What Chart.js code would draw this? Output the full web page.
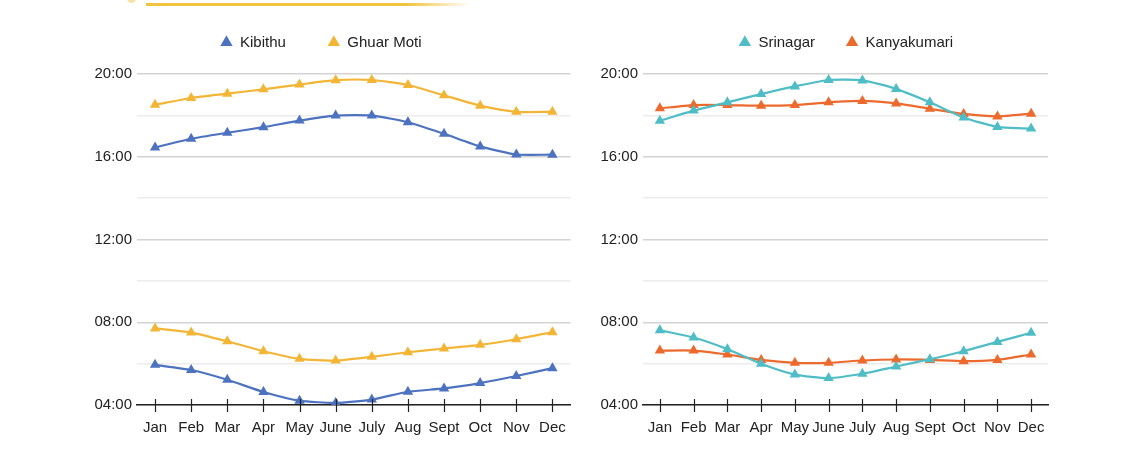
<!DOCTYPE html>
<html>
<head>
<meta charset="utf-8">
<script src="https://cdn.jsdelivr.net/npm/chart.js@4/dist/chart.umd.min.js"></script>
<style>
  body { margin: 0; background: #fff; width: 1146px; height: 460px; position: relative; overflow: hidden; }
  .box { position: absolute; top: 0; height: 460px; }
  #leftBox { left: 0; width: 580px; }
  #rightBox { left: 573px; width: 573px; }
  .deco { position: absolute; left: 146px; top: 3px; width: 325px; height: 3px;
    background: linear-gradient(to right, #f0c43c 0%, #f0c43c 80%, rgba(240,196,60,0) 100%); }
  .dot { position: absolute; left: 127px; top: -6px; width: 9px; height: 9px; border-radius: 50%; background: #f7e2a6; }
</style>
</head>
<body>
<div class="dot"></div>
<div class="deco"></div>
<div class="box" id="leftBox"><canvas id="leftChart"></canvas></div>
<div class="box" id="rightBox"><canvas id="rightChart"></canvas></div>
<script>
// months on the x axis
const months = ['Jan', 'Feb', 'Mar', 'Apr', 'May', 'June', 'July', 'Aug', 'Sept', 'Oct', 'Nov', 'Dec'];

// times as decimal hours
const kibithuSunrise = [5.94, 5.69, 5.22, 4.63, 4.21, 4.10, 4.26, 4.64, 4.80, 5.06, 5.40, 5.78];
const kibithuSunset = [16.45, 16.87, 17.16, 17.43, 17.75, 17.99, 17.99, 17.67, 17.11, 16.50, 16.11, 16.10];
const ghuarMotiSunrise = [7.70, 7.50, 7.08, 6.60, 6.23, 6.15, 6.33, 6.55, 6.73, 6.91, 7.18, 7.52];
const ghuarMotiSunset = [18.51, 18.84, 19.05, 19.26, 19.49, 19.70, 19.71, 19.47, 18.97, 18.47, 18.17, 18.17];

const srinagarSunrise = [7.61, 7.26, 6.70, 5.99, 5.47, 5.30, 5.51, 5.86, 6.21, 6.60, 7.05, 7.49];
const srinagarSunset = [17.74, 18.23, 18.63, 19.03, 19.40, 19.71, 19.69, 19.28, 18.63, 17.90, 17.44, 17.36];
const kanyakumariSunrise = [6.63, 6.63, 6.44, 6.18, 6.04, 6.04, 6.15, 6.20, 6.18, 6.12, 6.18, 6.44];
const kanyakumariSunset = [18.34, 18.50, 18.50, 18.47, 18.50, 18.63, 18.70, 18.58, 18.32, 18.07, 17.95, 18.08];

const yTicks = [4, 8, 12, 16, 20];

const fontFamily = '"Liberation Sans", Arial, sans-serif';

function fmt(h) {
    const hh = Math.floor(h);
    const mm = Math.round((h - hh) * 60);
    return String(hh).padStart(2, '0') + ':' + String(mm).padStart(2, '0');
}

function series(label, data, color, inLegend) {
    return {
        label: label,
        data: data,
        borderColor: color,
        backgroundColor: color,
        borderWidth: 2.2,
        pointStyle: 'triangle',
        pointRadius: 3.8,
        pointHoverRadius: 3.8,
        tension: 0.2,
        inLegend: inLegend
    };
}

// tick marks crossing the x axis line
const crossTicks = {
    id: 'crossTicks',
    afterDatasetsDraw(chart) {
        const ctx = chart.ctx;
        const x = chart.scales.x;
        const y0 = chart.chartArea.bottom;
        ctx.save();
        ctx.strokeStyle = '#222';
        ctx.lineWidth = 1.2;
        x.ticks.forEach((t, i) => {
            const px = Math.round(x.getPixelForTick(i)) + 0.5;
            ctx.beginPath();
            ctx.moveTo(px, y0 - 6);
            ctx.lineTo(px, y0 + 7);
            ctx.stroke();
        });
        ctx.restore();
    }
};

// extra room under the legend, and a sideways nudge of it
const legendGap = {
    id: 'legendGap',
    beforeInit(chart) {
        const fit = chart.legend.fit;
        chart.legend.fit = function () {
            fit.bind(chart.legend)();
            this.height += 14;
        };
    },
    afterLayout(chart, args, opts) {
        chart.legend.left += opts.dx || 0;
        chart.legend.right += opts.dx || 0;
    }
};

function makeChart(id, datasets, padLeft, padRight, legendPad, dx) {
    const ctx = document.getElementById(id).getContext('2d');
    return new Chart(ctx, {
        type: 'line',
        data: { labels: months, datasets: datasets },
        plugins: [crossTicks, legendGap],
        options: {
            responsive: true,
            maintainAspectRatio: false,
            animation: false,
            layout: { padding: { left: padLeft, right: padRight, top: 35 - legendPad, bottom: 9 } },
            plugins: {
                legendGap: { dx: dx },
                legend: {
                    position: 'top',
                    align: 'center',
                    labels: {
                        usePointStyle: true,
                        pointStyle: 'triangle',
                        boxWidth: 12,
                        boxHeight: 7,
                        padding: legendPad,
                        color: '#222',
                        font: { family: fontFamily, size: 15 },
                        filter: (item, data) => data.datasets[item.datasetIndex].inLegend
                    }
                },
                tooltip: { enabled: false }
            },
            scales: {
                x: {
                    offset: true,
                    grid: { display: false, drawTicks: false },
                    border: { display: true, color: '#222', width: 1.5 },
                    ticks: { color: '#222', padding: 14, font: { family: fontFamily, size: 15 }, maxRotation: 0, autoSkip: false }
                },
                y: {
                    min: 4,
                    max: 20,
                    afterFit: (scale) => { scale.width = 45; },
                    ticks: {
                        stepSize: 2,
                        padding: 5,
                        color: '#222',
                        font: { family: fontFamily, size: 15 },
                        callback: (v) => yTicks.includes(v) ? fmt(v) : ''
                    },
                    grid: {
                        drawTicks: false,
                        color: (c) => (c.tick && yTicks.includes(c.tick.value)) ? '#d3d3d3' : '#ececec',
                        lineWidth: 1.5
                    },
                    border: { display: false }
                }
            }
        }
    });
}

makeChart('leftChart', [
    series('Kibithu', kibithuSunrise, '#4d72c0', true),
    series('Ghuar Moti', ghuarMotiSunrise, '#f3b535', true),
    series('Kibithu sunset', kibithuSunset, '#4d72c0', false),
    series('Ghuar Moti sunset', ghuarMotiSunset, '#f3b535', false)
], 92, 0, 42, -15);

makeChart('rightChart', [
    series('Srinagar', srinagarSunrise, '#4fbdc6', true),
    series('Kanyakumari', kanyakumariSunrise, '#ec6a2d', true),
    series('Srinagar sunset', srinagarSunset, '#4fbdc6', false),
    series('Kanyakumari sunset', kanyakumariSunset, '#ec6a2d', false)
], 25, 98, 31, 23);
</script>
</body>
</html>
